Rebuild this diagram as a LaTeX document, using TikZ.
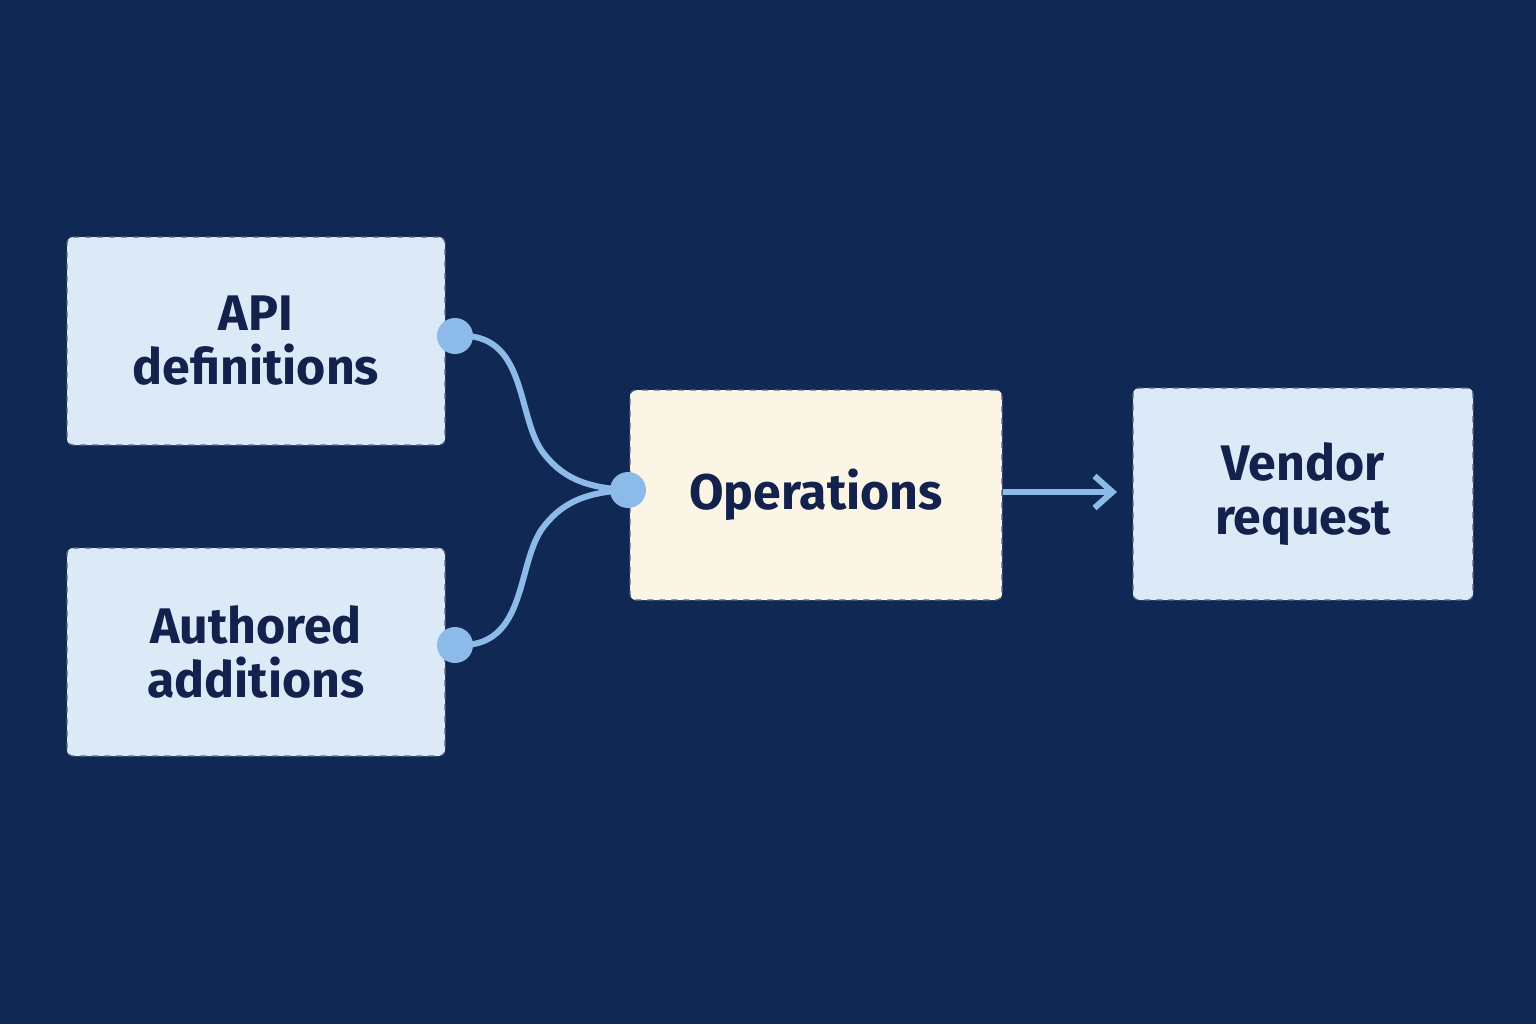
\documentclass[tikz,border=0pt]{standalone}
\usepackage{fontspec}
\setmainfont{Fira Sans}
\usetikzlibrary{arrows.meta}
\definecolor{bg}{HTML}{102854}
\definecolor{bluebox}{HTML}{DCEAF7}
\definecolor{cream}{HTML}{FAF5E4}
\definecolor{ink}{HTML}{13224D}
\definecolor{link}{HTML}{8CBBEA}
\begin{document}
\begin{tikzpicture}[x=0.5pt,y=-0.5pt,
  box/.style={draw=ink!70,dashed,line width=0.6pt,rounded corners=3pt,fill=bluebox,
    minimum width=189pt,minimum height=104pt,align=center,text=ink,
    font=\fontsize{25}{27}\selectfont\bfseries},
  conn/.style={draw=link,line width=3pt},
  dot/.style={circle,fill=link,inner sep=0pt,minimum size=18pt}]
\fill[bg] (0,0) rectangle (1536,1024);
\useasboundingbox (0,0) rectangle (1536,1024);
\node[box] (api) at (256,341) {API\\definitions};
\node[box] (auth) at (256,652) {Authored\\additions};
\node[box,fill=cream,minimum width=186pt,minimum height=105pt] (ops) at (816,495) {Operations};
\node[box,minimum width=170pt,minimum height=106pt] (ven) at (1303,494) {Vendor\\request};
\node[dot] (d1) at (455,336) {};
\node[dot] (d2) at (455,645) {};
\node[dot] (d3) at (628,490) {};
\draw[conn] (d1.center) .. controls (530,330) and (515,420) .. (545,455) .. controls (565,480) and (590,488) .. (d3.center);
\draw[conn] (d2.center) .. controls (530,650) and (515,560) .. (545,525) .. controls (565,500) and (590,492) .. (d3.center);
\coordinate (e) at (1117,492);
\draw[conn,-{Straight Barb[length=9pt,width=16pt,line width=3pt]}] (ops.east |- e) -- (e);
\end{tikzpicture}
\end{document}
